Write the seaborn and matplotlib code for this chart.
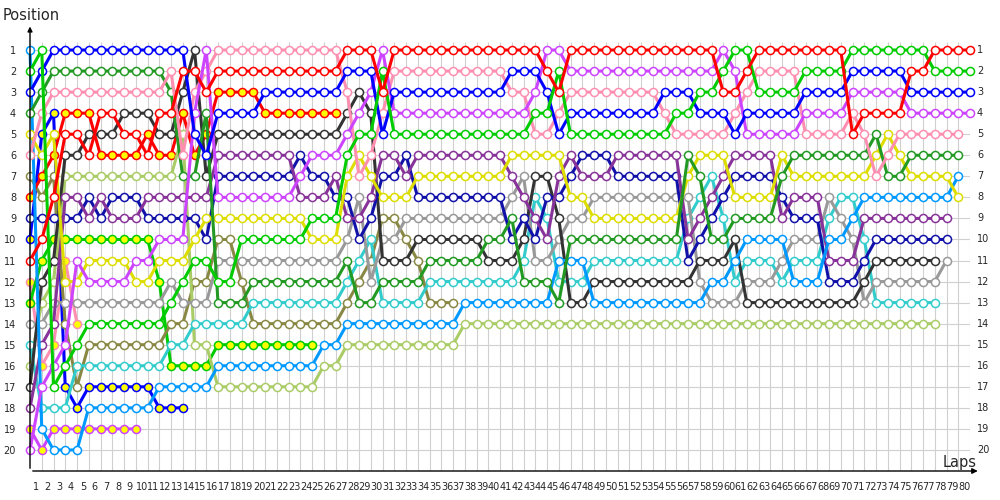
import numpy as np
import pandas as pd
import matplotlib
matplotlib.use("Agg")
import matplotlib.pyplot as plt
import seaborn as sns

# ---------------- data (position per lap; index 0 = grid) ----------------
laps = list(range(0, 81))
lap_labels = [str(i) for i in range(1, 81)]
pos_labels = [str(i) for i in range(1, 21)]

red = [11,10,8,5,5,6,4,4,5,5, 6,4,4,2,2,3,2,2,2,2, 2,2,2,2,2,2,2,1,1,1,
       3,1,1,1,1,1,1,1,1,1, 1,1,1,1,2,3,1,1,1,1, 1,1,1,1,1,1,1,1,1,3,
       3,2,1,1,1,1,1,1,1,1, 5,4,4,4,4,2,2,1,1,1, 1]
red_y = [8,7,6,4,4,4,6,6,6,6, 5,6,6,4,6,5,3,3,3,3, 4,4,4,4,4,4,4]
green = [2,1,17,16,15,14,14,14,14,14, 14,14,13,12,11,11,12,12,10,10, 10,10,10,10,9,9,9,6,5,5,
         2,5,5,5,5,5,5,5,5,5, 5,5,5,4,4,2,5,5,5,5, 5,5,5,5,5,4,4,3,3,2,
         1,1,3,3,3,3,2,2,2,2, 1,1,1,1,1,1,1,2,2,2, 2]
green_y = [13,11,10,10,10,10,10,10,10,10, 10,12,16,16,16,16,15,15,15,15, 15,15,15,15,15]
blue = [3,2,1,1,1,1,1,1,1,1, 1,1,1,1,5,6,4,4,4,4, 3,3,3,3,3,3,3,2,2,2,
        5,3,3,3,3,3,3,3,3,3, 3,2,2,2,3,5,4,4,4,4, 4,4,4,4,3,3,3,4,4,4,
        5,4,4,4,4,4,3,3,3,3, 2,2,2,2,2,3,3,3,3,3, 3]
blue_y = [10,5,4,17,18,17,17,17,17,17, 17,18,18,18]
violet = [20,17,16,15,11,12,12,12,12,11, 11,10,10,10,4,1,8,8,8,8, 8,8,8,7,6,6,6,5,4,3,
          1,4,4,4,4,4,4,4,4,4, 4,4,4,3,1,1,2,2,2,2, 2,2,2,2,2,2,2,2,2,1,
          2,5,5,5,5,5,4,4,4,4, 3,3,3,3,3,4,4,4,4,4, 4]
violet_y = [19,20,19,19,19,19,19,19,19,19]
pink = [6,4,3,3,3,3,3,3,3,3, 3,3,2,6,3,2,1,1,1,1, 1,1,1,1,1,1,1,3,7,6,
        4,2,2,2,2,2,2,2,2,2, 2,3,3,5,5,4,3,3,3,3, 3,3,3,3,4,5,5,5,5,5,
        4,3,2,2,2,2,5,5,5,5, 4,5,7,6,5,5,5,5,5,5]
pink_y = [12,16,15,11,14]
dark_green = [4,3,2,2,2,2,2,2,2,2, 2,2,3,7,7,4,13,13,13,12, 12,12,12,12,12,12,12,11,13,13,
              12,12,12,12,11,11,11,11,11,10, 10,9,12,12,12,13,10,10,10,10, 10,10,10,10,10,10,6,7,10,10,
              9,9,9,9,7,6,6,6,6,6, 6,6,5,7,7,6,6,6,6,6]
yellow = [5,6,5,12,12,11,11,11,11,12, 12,11,11,11,10,9,9,9,9,9, 9,9,9,9,10,10,10,7,6,7,
          8,8,8,7,7,7,7,7,7,7, 7,6,6,6,6,6,8,8,9,9, 9,9,9,9,9,9,7,6,6,6,
          8,8,8,8,6,7,7,7,7,7, 7,7,6,5,6,7,7,7,7,8]
azure = [1,19,20,20,20,18,18,18,18,18, 18,17,17,17,17,17,16,16,16,16, 16,16,16,16,16,15,15,14,14,14,
         14,14,14,14,14,14,14,13,13,13, 13,13,13,13,13,11,11,11,13,13, 13,13,13,13,13,13,13,13,12,12,
         11,10,10,10,10,12,12,12,10,10, 9,8,8,8,8,8,8,8,8,7]
purple = [18,15,14,8,8,9,8,9,9,9, 8,8,8,8,8,8,6,6,6,6, 6,6,6,8,8,8,7,9,9,8,
          6,6,7,6,6,6,6,6,6,6, 6,7,8,9,10,7,6,7,7,7, 6,6,6,6,6,6,10,9,8,7,
          6,6,6,6,9,8,8,8,11,11, 11,9,9,9,9,9,9,9,9]
navy = [9,9,9,9,9,8,9,8,8,8, 9,9,9,9,9,10,7,7,7,7, 7,7,7,6,7,7,8,8,10,9,
        7,7,6,8,8,8,8,8,8,8, 8,10,9,10,8,8,7,6,6,6, 7,7,7,7,7,7,11,10,9,8,
        7,7,7,7,8,9,9,9,12,12, 12,11,10,10,10,10,10,10,10]
black = [17,12,11,6,6,5,5,5,4,4, 4,5,5,3,1,7,5,5,5,5, 5,5,5,5,5,5,5,4,3,4,
         11,11,11,10,10,10,10,10,10,11, 11,11,10,7,7,9,13,13,12,12, 12,12,12,12,12,12,12,11,11,11,
         10,13,13,13,13,13,13,13,13,13, 13,12,11,11,11,11,11,11]
gray = [14,14,13,13,13,13,13,13,13,13, 13,13,12,13,13,13,11,11,11,11, 11,11,11,11,11,11,11,10,8,12,
        10,10,9,9,9,9,9,9,9,9, 9,8,7,11,11,10,9,9,8,8, 8,8,8,8,8,8,8,12,13,13,
        13,12,12,12,11,10,10,10,8,9, 10,13,12,12,12,12,12,12,11]
cyan = [15,18,18,18,16,16,16,16,16,16, 16,16,15,15,14,14,14,14,14,13, 13,13,13,13,13,13,13,12,11,10,
        13,13,13,13,12,12,12,12,12,12, 12,12,11,8,9,12,12,12,11,11, 11,11,11,11,11,11,9,8,7,9,
        12,11,11,11,12,11,11,11,9,8, 8,10,13,13,13,13,13,13]
light_olive = [16,13,12,7,7,7,7,7,7,7, 7,7,7,5,15,15,17,17,17,17, 17,17,17,17,17,16,16,15,15,15,
               15,15,15,15,15,15,15,14,14,14, 14,14,14,14,14,14,14,14,14,14, 14,14,14,14,14,14,14,14,14,14,
               14,14,14,14,14,14,14,14,14,14, 14,14,14,14,14,14,14,14]
olive = [7,8,7,14,17,15,15,15,15,15, 15,15,14,14,12,12,10,10,12,14, 14,14,14,14,14,14,14,13,12,11,
         9,9,10,11,13,13,13]

# (name, positions, line colour, marker face colour) in drawing order
drivers = [
    ("PY", pink_y, "#FF8FB0", "#FFFF00"),
    ("VY", violet_y, "#CC44FF", "#FFFF00"),
    ("BY", blue_y, "#0000FF", "#FFFF00"),
    ("GY", green_y, "#00CC00", "#FFFF00"),
    ("O", olive, "#888844", "white"),
    ("RY", red_y, "#FF0000", "#FFFF00"),
    ("LO", light_olive, "#AACC66", "white"),
    ("C", cyan, "#33CCCC", "white"),
    ("GR", gray, "#999999", "white"),
    ("K", black, "#333333", "white"),
    ("N", navy, "#1111AA", "white"),
    ("PU", purple, "#883399", "white"),
    ("A", azure, "#0099FF", "white"),
    ("Y", yellow, "#DDDD00", "white"),
    ("DG", dark_green, "#229922", "white"),
    ("P", pink, "#FF8FB0", "white"),
    ("V", violet, "#CC44FF", "white"),
    ("B", blue, "#0000FF", "white"),
    ("G", green, "#00CC00", "white"),
    ("R", red, "#FF0000", "white"),
]

# ---------------- figure ----------------
sns.set_theme(style="white")
plt.rcParams["font.family"] = ["DejaVu Sans"]

fig = plt.figure(figsize=(10, 5), dpi=100)
ax = fig.add_axes([0.030, 0.058, 0.940, 0.8588])
ax.set_xlim(0, 80)
ax.set_ylim(21, 0.6)

# grid
ax.vlines(range(1, 81), 0.6, 21, color="#D0D0D0", lw=0.8, zorder=0)
ax.hlines(range(1, 21), 0, 80, color="#D0D0D0", lw=0.8, zorder=0)

for name, vals, col, face in drivers:
    df = pd.DataFrame({"lap": laps[:len(vals)], "pos": vals})
    sns.lineplot(data=df, x="lap", y="pos", ax=ax, color=col, linewidth=2.2,
                 marker="o", markersize=5.8, markerfacecolor=face,
                 markeredgecolor=col, markeredgewidth=1.1,
                 estimator=None, sort=False, legend=False, clip_on=False, zorder=3)

for s in ax.spines.values():
    s.set_visible(False)

ax.set_xlabel("")
ax.set_ylabel("")
ax.set_xticks([i - 0.5 for i in range(1, 81)])
ax.set_xticklabels(lap_labels, fontsize=7)
ax.set_yticks(range(1, 21))
ax.set_yticklabels(pos_labels, fontsize=7)
ax.tick_params(axis="x", length=0, pad=8)
ax.tick_params(axis="y", length=0, pad=10, labelleft=True, labelright=False)
for p in range(1, 21):
    ax.text(80.6, p, pos_labels[p - 1], fontsize=7, va="center", ha="left")

# axis arrows
ax.annotate("", xy=(0, -0.25), xytext=(0, 21), annotation_clip=False,
            arrowprops=dict(arrowstyle="-|>", color="black", lw=1.0, mutation_scale=7))
ax.annotate("", xy=(80.9, 21), xytext=(0, 21), annotation_clip=False,
            arrowprops=dict(arrowstyle="-|>", color="black", lw=1.0, mutation_scale=8))

fig.text(0.003, 1 - 15 / 500, "Position", fontsize=10.5, va="center", ha="left")
fig.text(0.943, 1 - 463 / 500, "Laps", fontsize=10.5, va="center", ha="left")

fig.savefig("out.png", dpi=100)
